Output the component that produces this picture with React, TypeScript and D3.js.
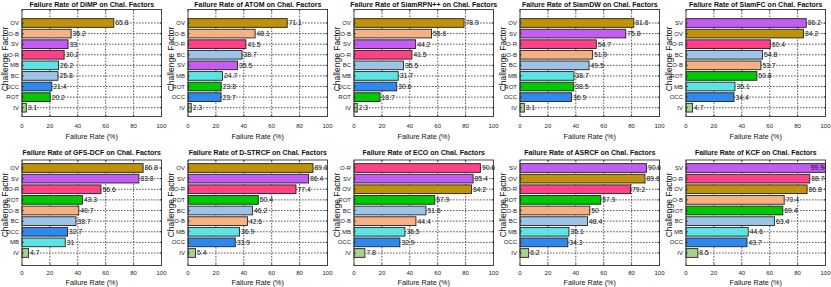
import React from "react";
import * as d3 from "d3";

// failure rates per challenge factor, sorted as in the figure (top to bottom)
const dimpFactors = ["OV", "O-B", "SV", "O-R", "MB", "BC", "OCC", "ROT", "IV"];
const dimpRates = [65.8, 35.2, 33, 30.2, 26.2, 25.8, 21.4, 20.2, 3.1];

const atomFactors = ["OV", "O-B", "O-R", "BC", "SV", "MB", "ROT", "OCC", "IV"];
const atomRates = [71.1, 48.1, 41.5, 38.7, 35.5, 24.7, 23.8, 23.7, 2.3];

const rpnFactors = ["OV", "O-B", "SV", "O-R", "BC", "MB", "OCC", "ROT", "IV"];
const rpnRates = [78.9, 55.6, 44.2, 41.5, 35.5, 31.7, 30.6, 18.7, 2.3];

const dwFactors = ["OV", "SV", "O-R", "O-B", "BC", "MB", "ROT", "OCC", "IV"];
const dwRates = [81.6, 75.8, 54.7, 51.9, 49.5, 38.7, 38.5, 36.9, 3.1];

const fcFactors = ["SV", "OV", "O-R", "BC", "O-B", "ROT", "MB", "OCC", "IV"];
const fcRates = [86.2, 84.2, 60.4, 54.8, 53.7, 50.8, 35.1, 34.4, 4.7];

const gfsFactors = ["OV", "SV", "O-R", "ROT", "O-B", "BC", "OCC", "MB", "IV"];
const gfsRates = [86.8, 83.8, 56.6, 43.3, 40.7, 38.7, 32.7, 31, 4.7];

const dstrcfFactors = ["OV", "SV", "O-R", "ROT", "BC", "O-B", "MB", "OCC", "IV"];
const dstrcfRates = [89.6, 86.4, 77.4, 50.4, 46.2, 42.6, 36.9, 33.9, 5.4];

const ecoFactors = ["O-R", "SV", "OV", "ROT", "BC", "O-B", "MB", "OCC", "IV"];
const ecoRates = [90.6, 85.4, 84.2, 57.9, 51.6, 44.4, 36.5, 32.9, 7.8];

const asrcfFactors = ["SV", "OV", "O-R", "ROT", "O-B", "BC", "MB", "OCC", "IV"];
const asrcfRates = [90.6, 89.6, 79.2, 57.9, 50, 48.4, 35.1, 34.3, 6.2];

const kcfFactors = ["SV", "O-R", "OV", "O-B", "ROT", "BC", "MB", "OCC", "IV"];
const kcfRates = [99.9, 88.7, 86.8, 70.4, 69.4, 63.4, 44.6, 43.7, 8.5];

const xTicks = [0, 20, 40, 60, 80, 100];

const factorColors: Record<string, string> = {
  OV: "#c0920a",
  "O-B": "#f4b183",
  SV: "#c35cf2",
  "O-R": "#ff4288",
  MB: "#5ce4e4",
  BC: "#9dc3e6",
  OCC: "#2f88ee",
  ROT: "#00c800",
  IV: "#a9d18e",
};

const panels = [
  { name: "DiMP", factors: dimpFactors, rates: dimpRates },
  { name: "ATOM", factors: atomFactors, rates: atomRates },
  { name: "SiamRPN++", factors: rpnFactors, rates: rpnRates },
  { name: "SiamDW", factors: dwFactors, rates: dwRates },
  { name: "SiamFC", factors: fcFactors, rates: fcRates },
  { name: "GFS-DCF", factors: gfsFactors, rates: gfsRates },
  { name: "D-STRCF", factors: dstrcfFactors, rates: dstrcfRates },
  { name: "ECO", factors: ecoFactors, rates: ecoRates },
  { name: "ASRCF", factors: asrcfFactors, rates: asrcfRates },
  { name: "KCF", factors: kcfFactors, rates: kcfRates },
];

const W = 831;
const H = 287;
const FONT = "'Liberation Sans', Arial, Helvetica, sans-serif";
const colLeft = [22, 188, 354, 520, 686];
const plotW = 139.5;
const rows = [
  { title: 7.3, top: 9.5, bottom: 116.5, first: 23, last: 107.7, ticks: 128.2, label: 138.6, ylab: 59 },
  { title: 154.5, top: 160, bottom: 265.5, first: 168, last: 253, ticks: 275.2, label: 284.6, ylab: 205 },
];

const Panel = ({ p, left, row }: any) => {
  const x = d3.scaleLinear().domain([0, 100]).range([left, left + plotW]);
  const y = d3.scalePoint().domain(p.factors).range([row.first, row.last]);
  const step = (row.last - row.first) / (p.factors.length - 1);
  const bh = step * 0.82;
  const right = x(100);

  return (
    <g>
      <text
        x={(left + right) / 2}
        y={row.title}
        textAnchor="middle"
        fontSize={7}
        fontWeight="bold"
        fill="#111"
      >
        {`Failure Rate of ${p.name} on Chal. Factors`}
      </text>

      {/* grid */}
      {xTicks.slice(1, -1).map((t) => (
        <line
          key={"gx" + t}
          x1={x(t)}
          x2={x(t)}
          y1={row.top}
          y2={row.bottom}
          stroke="#333"
          strokeWidth={0.8}
          strokeDasharray="1.6,1.4"
        />
      ))}
      {p.factors.map((f: string) => (
        <line
          key={"gy" + f}
          x1={left}
          x2={right}
          y1={y(f)}
          y2={y(f)}
          stroke="#333"
          strokeWidth={0.8}
          strokeDasharray="1.6,1.4"
        />
      ))}

      {/* bars */}
      {p.factors.map((f: string, i: number) => (
        <rect
          key={"b" + f}
          x={x(0)}
          y={(y(f) as number) - bh / 2}
          width={x(p.rates[i]) - x(0)}
          height={bh}
          fill={factorColors[f]}
          stroke="#222"
          strokeWidth={0.9}
        />
      ))}
      {p.factors.map((f: string, i: number) => {
        const lx = x(p.rates[i]) + 1.5;
        const tooFar = lx + 13 > W - 1;
        return (
          <text
            key={"v" + f}
            x={tooFar ? right - 1.5 : lx}
            y={(y(f) as number) + 2.4}
            textAnchor={tooFar ? "end" : "start"}
            fontSize={6.8}
            fill="#111"
          >
            {p.rates[i]}
          </text>
        );
      })}

      {/* box + ticks */}
      <rect
        x={left}
        y={row.top}
        width={plotW}
        height={row.bottom - row.top}
        fill="none"
        stroke="#333"
        strokeWidth={0.9}
      />
      {xTicks.map((t) => (
        <g key={"tx" + t}>
          <line x1={x(t)} x2={x(t)} y1={row.bottom} y2={row.bottom - 2} stroke="#333" strokeWidth={0.8} />
          <line x1={x(t)} x2={x(t)} y1={row.top} y2={row.top + 2} stroke="#333" strokeWidth={0.8} />
          <text x={x(t)} y={row.ticks} textAnchor="middle" fontSize={6} fill="#222">
            {t}
          </text>
        </g>
      ))}
      {p.factors.map((f: string) => (
        <g key={"ty" + f}>
          <line x1={left} x2={left + 2} y1={y(f)} y2={y(f)} stroke="#333" strokeWidth={0.8} />
          <line x1={right} x2={right - 2} y1={y(f)} y2={y(f)} stroke="#333" strokeWidth={0.8} />
          <text x={left - 3} y={(y(f) as number) + 2.1} textAnchor="end" fontSize={6} fill="#222">
            {f}
          </text>
        </g>
      ))}

      <text x={(left + right) / 2} y={row.label} textAnchor="middle" fontSize={7.2} fill="#111">
        Failure Rate (%)
      </text>
      <text
        transform={`translate(${left - 14.5},${row.ylab}) rotate(-90)`}
        textAnchor="middle"
        fontSize={8.5}
        fill="#111"
      >
        Challenge Factor
      </text>
    </g>
  );
};

export default function App() {
  return (
    <svg
      width={W}
      height={H}
      style={{ position: "absolute", left: 0, top: 0, background: "#fff" }}
      fontFamily={FONT}
    >
      <rect width={W} height={H} fill="#fff" />
      {panels.map((p, i) => (
        <Panel key={p.name} p={p} left={colLeft[i % 5]} row={rows[Math.floor(i / 5)]} />
      ))}
    </svg>
  );
}
